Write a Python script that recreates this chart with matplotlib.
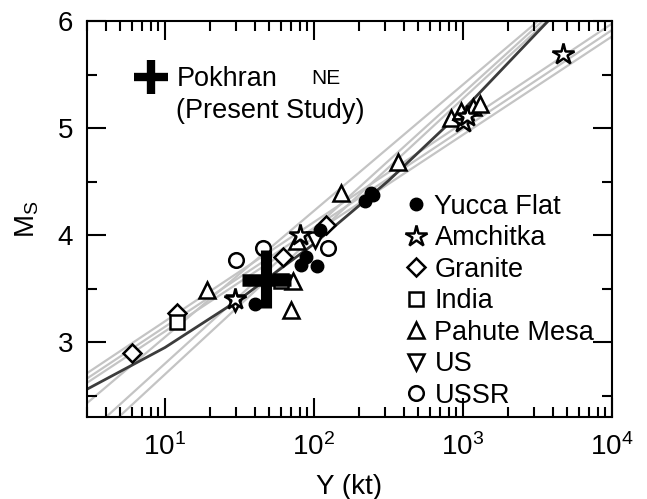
import matplotlib
matplotlib.use("Agg")
import matplotlib.pyplot as plt
from matplotlib.lines import Line2D
from matplotlib.ticker import MultipleLocator, LogLocator

plt.rcParams['font.family'] = ['Liberation Sans', 'DejaVu Sans']

# datos: Y (kt) y Ms
yucca_Y = [40, 82, 89, 104, 109, 220, 240, 250]
yucca_M = [3.36, 3.72, 3.80, 3.71, 4.05, 4.32, 4.40, 4.38]

amchitka_Y = [29.4, 80, 1000, 1060, 4650]
amchitka_M = [3.40, 4.00, 5.06, 5.12, 5.70]

granite_Y = [6.0, 12, 62, 121]
granite_M = [2.90, 3.27, 3.80, 4.10]

india_Y = [12, 60]
india_M = [3.19, 3.57]

pahute_Y = [19.2, 70.6, 72, 77, 152, 366, 832, 970, 1160, 1290]
pahute_M = [3.49, 3.30, 3.57, 3.95, 4.40, 4.69, 5.10, 5.16, 5.20, 5.23]

us_Y = [29.4, 101]
us_M = [3.37, 3.96]

ussr_Y = [30.2, 45.5, 124]
ussr_M = [3.77, 3.88, 3.88]

# Pokhran (presente estudo)
pokhran_Y = 48
pokhran_M = 3.58
pokhran_Y_range = [33, 70]
pokhran_M_range = [3.32, 3.86]

# curva ajustada (escura)
curva_Y = [3, 10, 31.6, 100, 316, 1000, 3160, 3700]
curva_M = [2.56, 2.95, 3.40, 3.92, 4.51, 5.17, 5.90, 6.0]

# retas cinza (dois pontos cada)
retas_Y = [
    [3, 3160], [4.03, 3390], [4.9, 3630],
    [3, 1e4], [3, 1e4], [3, 1e4],
]
retas_M = [
    [2.43, 6.0], [2.30, 6.0], [2.30, 6.0],
    [2.62, 5.86], [2.66, 5.92], [2.71, 5.98],
]

fig = plt.figure(figsize=(6.47, 4.99), dpi=100)
ax = fig.add_axes([0.1345, 0.1643, 0.8115, 0.7927])

for ry, rm in zip(retas_Y, retas_M):
    ax.plot(ry, rm, color='#c4c4c4', lw=1.6, zorder=1)
ax.plot(curva_Y, curva_M, color='#3c3c3c', lw=2.0, zorder=2)

mew = 1.8
ax.plot(pahute_Y, pahute_M, ls='none', marker='^', ms=12, mfc='white', mec='black', mew=mew, zorder=3)
ax.plot(granite_Y, granite_M, ls='none', marker='D', ms=9.5, mfc='white', mec='black', mew=mew, zorder=3)
ax.plot(india_Y, india_M, ls='none', marker='s', ms=9.5, mfc='white', mec='black', mew=mew, zorder=3)
ax.plot(us_Y, us_M, ls='none', marker='v', ms=12, mfc='white', mec='black', mew=mew, zorder=3)
ax.plot(ussr_Y, ussr_M, ls='none', marker='o', ms=10.5, mfc='white', mec='black', mew=mew, zorder=3)
ax.plot(amchitka_Y, amchitka_M, ls='none', marker='*', ms=16, mfc='white', mec='black', mew=mew, zorder=3)
ax.plot(yucca_Y, yucca_M, ls='none', marker='o', ms=9, mfc='black', mec='black', zorder=4)

ax.plot(pokhran_Y_range, [pokhran_M, pokhran_M], color='black', lw=9, solid_capstyle='butt', zorder=5)
ax.plot([pokhran_Y, pokhran_Y], pokhran_M_range, color='black', lw=8, solid_capstyle='butt', zorder=5)

ax.set_xscale('log')
ax.set_xlim(3, 1e4)
ax.set_ylim(2.3, 6)
ax.yaxis.set_major_locator(MultipleLocator(1))
ax.yaxis.set_minor_locator(MultipleLocator(0.5))
ax.xaxis.set_minor_locator(LogLocator(base=10, subs=range(2, 10), numticks=20))

ax.tick_params(which='both', direction='in', top=True, right=True, width=1.5, labelsize=20)
ax.tick_params(which='major', length=13.5)
ax.tick_params(which='minor', length=7)
ax.tick_params(axis='y', pad=10)
ax.tick_params(axis='x', pad=12)
for s in ax.spines.values():
    s.set_linewidth(1.5)

ax.set_xlabel('Y (kt)', fontsize=20, labelpad=9)
ax.set_ylabel(r'M$_\mathregular{S}$', fontsize=20, labelpad=12)

# legenda das regioes
handles = [
    Line2D([], [], ls='none', marker='o', ms=9, mfc='black', mec='black'),
    Line2D([], [], ls='none', marker='*', ms=16, mfc='white', mec='black', mew=mew),
    Line2D([], [], ls='none', marker='D', ms=9.5, mfc='white', mec='black', mew=mew),
    Line2D([], [], ls='none', marker='s', ms=9.5, mfc='white', mec='black', mew=mew),
    Line2D([], [], ls='none', marker='^', ms=12, mfc='white', mec='black', mew=mew),
    Line2D([], [], ls='none', marker='v', ms=12, mfc='white', mec='black', mew=mew),
    Line2D([], [], ls='none', marker='o', ms=10.5, mfc='white', mec='black', mew=mew),
]
labels = ['Yucca Flat', 'Amchitka', 'Granite', 'India', 'Pahute Mesa', 'US', 'USSR']
leg = ax.legend(handles, labels, loc='upper left', bbox_to_anchor=(0.605, 0.565),
                frameon=False, fontsize=19.5, handlelength=0.8, handletextpad=0.3,
                labelspacing=0.205, borderpad=0, borderaxespad=0)
ax.add_artist(leg)

# legenda Pokhran
h_pok = Line2D([], [], ls='none', marker='+', ms=24, mec='black', mew=6)
h_vazio = Line2D([], [], ls='none')
leg2 = ax.legend([h_pok, h_vazio], ['Pokhran', '(Present Study)'], loc='upper left',
                 bbox_to_anchor=(0.09, 0.887), frameon=False, fontsize=19.5,
                 handlelength=1.2, handletextpad=0.35, labelspacing=0.22,
                 borderpad=0, borderaxespad=0)
ax.text(0.428, 0.856, 'NE', transform=ax.transAxes, fontsize=15, va='center', ha='left')

fig.savefig('out.png', dpi=100)
